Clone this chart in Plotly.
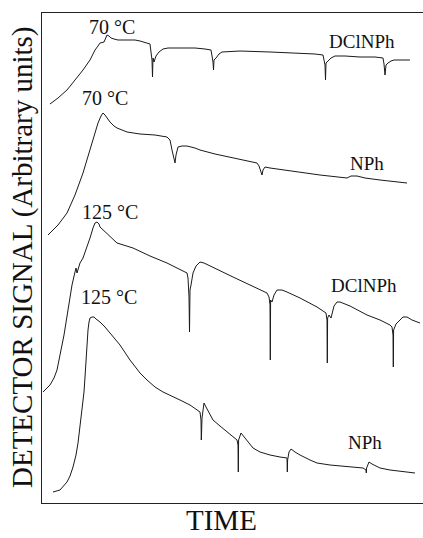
import plotly.graph_objects as go

# Trace 1: DClNPh at 70 °C
t_dcl70 = [8,16,25,33,41,48,53,56,58,62,64,65,67,69,72,76,83,93,98,105,108,109,110,110.5,111,112,114,117,121,126,138,153,163,169,170,171,171.5,172,174,177,180,198,228,258,273,281,282,283,283.5,284,286,289,293,303,318,333,341,342,343,343.5,344,346,349,352,358,368]
s_dcl70 = [399,405,413,423,433,443,453,457,460,461,466,468,467,465,464,463,463,463,462,460,459,451,443,426,445,441,447,451,454,455,455,455,454,453,447,441,433,443,445,449,451,452,451,450,449,448,443,438,423,440,442,445,447,447,446,446,445,439,428,438,438,440,442,443,443,443]

# Trace 2: NPh at 70 °C
t_nph70 = [6,16,25,33,41,46,51,54,56,59,61,63,66,68,72,75,80,85,98,113,125,128,130,133,134,136,140,145,153,158,173,191,203,215,217,219,220,221,223,228,241,258,278,305,307,309,315,323,338,353,365]
s_nph70 = [268,278,290,308,330,346,363,373,380,387,390,388,384,381,377,375,373,371,369,368,366,363,353,340,348,356,357,357,355,353,349,345,343,340,337,331,328,333,336,335,333,331,328,325,326,327,327,325,323,321,320]

# Trace 3: DClNPh at 125 °C
t_dcl125 = [1,5,8,12,15,18,22,26,30,33,34,35,36,38,41,44,48,51,53,55,57,58,63,75,91,108,125,138,145,146,147,147.5,148,149,150,151,154,158,162,166,171,191,208,225,227,228,228.3,228.6,230,232,235,240,245,258,275,280,284,285,285.3,285.6,287,289,292,295,298,308,325,338,348,350,351,351.3,351.6,354,358,361,365,370,378]
s_dcl125 = [111,115,118,125,133,148,168,193,218,231,235,230,233,240,245,253,265,275,280,281,279,276,271,260,255,247,240,234,230,225,206,171,213,218,223,230,237,241,240,238,236,226,218,210,206,198,143,203,201,208,213,213,211,205,196,193,190,183,140,185,188,185,197,201,201,197,188,183,178,176,168,136,173,179,183,186,186,183,180]

# Trace 4: NPh at 125 °C
t_nph125 = [11,18,25,28,31,34,36,38,40,42,43,44,45,46,47,48,50,52,54,58,63,68,78,88,98,105,113,121,130,138,148,158,159,159.3,159.6,160,162,164,168,171,178,188,195,196,196.3,196.6,199,203,211,218,228,238,245,245.3,245.6,247,249,253,258,268,275,288,308,321,324,324.3,324.6,327,330,338,348,358,373]
s_nph125 = [11,13,21,27,36,48,60,76,93,111,126,143,160,173,181,185,186,186,184,181,176,170,158,143,130,123,116,111,107,103,98,91,83,63,71,85,100,96,88,83,77,69,63,58,31,63,70,65,55,51,48,46,45,31,43,51,54,51,48,43,40,38,36,35,33,30,35,41,39,35,33,32,30]

label_text = ["70 °C", "DClNPh", "70 °C", "NPh", "125 °C", "DClNPh", "125 °C", "NPh"]
label_size = [20, 19, 20, 19, 20, 19, 20, 19]
label_t = [70, 320, 63, 325, 68, 322, 67, 323]
label_s = [476, 462, 405, 340, 291, 218, 206, 61]

fig = go.Figure()
line_style = dict(color="#1a1a1a", width=1.0)
for t, s in [(t_dcl70, s_dcl70), (t_nph70, s_nph70), (t_dcl125, s_dcl125), (t_nph125, s_nph125)]:
    fig.add_trace(go.Scatter(x=t, y=s, mode="lines", line=line_style, showlegend=False, hoverinfo="skip"))

font = dict(family="Liberation Serif, Times New Roman, serif", color="#111")
for txt, sz, x, y in zip(label_text, label_size, label_t, label_s):
    fig.add_annotation(x=x, y=y, text=txt, showarrow=False, xanchor="center", yanchor="middle",
                       font=dict(size=sz, **font))

fig.add_annotation(xref="paper", yref="paper", x=-0.0525, y=0.502, text="DETECTOR SIGNAL (Arbitrary units)",
                   textangle=-90, showarrow=False, xanchor="center", yanchor="middle",
                   font=dict(size=29, **font))
fig.add_annotation(xref="paper", yref="paper", x=0.47, y=-0.035, text="TIME",
                   showarrow=False, xanchor="center", yanchor="middle",
                   font=dict(size=29, **font))

fig.update_xaxes(range=[0, 381], showgrid=False, zeroline=False, showticklabels=False, ticks="",
                 showline=True, linecolor="#222", linewidth=1.2, mirror=True)
fig.update_yaxes(range=[0, 490], showgrid=False, zeroline=False, showticklabels=False, ticks="",
                 showline=True, linecolor="#222", linewidth=1.2, mirror=False)
fig.update_layout(width=423, height=538, margin=dict(l=42, r=0, t=13, b=35),
                  paper_bgcolor="white", plot_bgcolor="white")
fig.write_html("out.html")
